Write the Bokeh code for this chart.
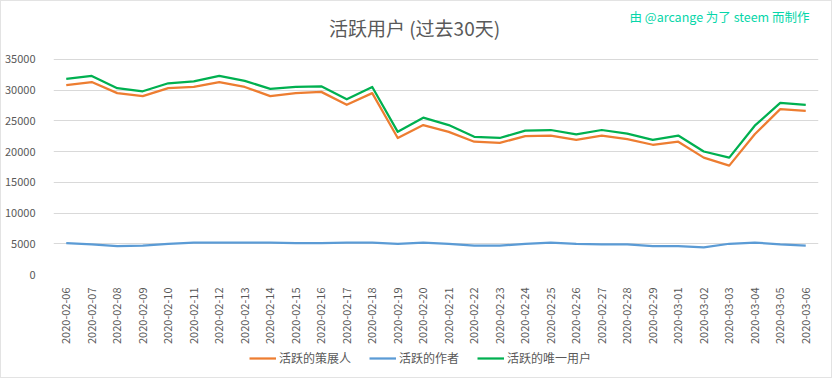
import math
from bokeh.plotting import figure
from bokeh.layouts import column
from bokeh.models import Legend, LegendItem, Label, FactorRange, Range1d, FixedTicker
from bokeh.embed import file_html
from bokeh.resources import INLINE

dates = ["2020-02-06", "2020-02-07", "2020-02-08", "2020-02-09", "2020-02-10",
         "2020-02-11", "2020-02-12", "2020-02-13", "2020-02-14", "2020-02-15",
         "2020-02-16", "2020-02-17", "2020-02-18", "2020-02-19", "2020-02-20",
         "2020-02-21", "2020-02-22", "2020-02-23", "2020-02-24", "2020-02-25",
         "2020-02-26", "2020-02-27", "2020-02-28", "2020-02-29", "2020-03-01",
         "2020-03-02", "2020-03-03", "2020-03-04", "2020-03-05", "2020-03-06"]

curators = [30800, 31300, 29500, 29000, 30300, 30500, 31300, 30500, 29000, 29500,
            29700, 27600, 29500, 22200, 24300, 23200, 21600, 21400, 22500, 22600,
            21900, 22600, 22000, 21100, 21600, 19000, 17700, 22800, 26900, 26600]

authors = [5100, 4900, 4600, 4700, 5000, 5200, 5200, 5200, 5200, 5100,
           5100, 5200, 5200, 5000, 5200, 5000, 4700, 4700, 5000, 5200,
           5000, 4900, 4900, 4600, 4600, 4400, 5000, 5200, 4900, 4700]

unique_users = [31800, 32300, 30300, 29800, 31100, 31400, 32300, 31500, 30200, 30500,
                30600, 28500, 30500, 23200, 25500, 24300, 22400, 22200, 23400, 23500,
                22800, 23500, 22900, 21900, 22600, 20000, 19000, 24200, 27900, 27600]

y_ticks = [0, 5000, 10000, 15000, 20000, 25000, 30000, 35000]

series_names = ["活跃的策展人", "活跃的作者", "活跃的唯一用户"]
series_colors = ["#ED7D31", "#5B9BD5", "#00B050"]
series_values = [curators, authors, unique_users]
title_text = "活跃用户 (过去30天)"
credit_text = "由 @arcange 为了 steem 而制作"

FONT = "Noto Sans CJK SC"
GREY = "#595959"
W = 830
H_MAIN = 345

# frame spans the header area too; 35000 sits 216px above 0 in a 274px frame
FRAME_H = 274
TICK_SPAN = 216
y_top = y_ticks[-1] * FRAME_H / TICK_SPAN

x_range = FactorRange(*dates)

p = figure(width=W, height=H_MAIN, x_range=x_range,
           y_range=Range1d(0, y_top), output_backend="svg", toolbar_location=None,
           min_border_left=51, min_border_right=13, min_border_top=0,
           min_border_bottom=H_MAIN - FRAME_H)

for vals, col in zip(series_values, series_colors):
    p.line(dates, vals, line_color=col, line_width=2.25, line_join="round")

p.outline_line_color = None
p.xgrid.grid_line_color = None
p.ygrid.grid_line_color = "#D9D9D9"
p.ygrid.grid_line_width = 1

p.yaxis.ticker = FixedTicker(ticks=y_ticks)
p.yaxis.axis_line_color = None
p.yaxis.major_tick_line_color = None
p.yaxis.minor_tick_line_color = None
p.yaxis.major_label_standoff = 12
p.yaxis.major_label_text_font = FONT
p.yaxis.major_label_text_font_size = "11px"
p.yaxis.major_label_text_color = GREY

p.xaxis.axis_line_color = None
p.xaxis.major_tick_line_color = None
p.xaxis.minor_tick_line_color = None
p.xaxis.major_label_orientation = math.pi / 2
p.xaxis.major_label_standoff = 7
p.xaxis.major_label_text_font = FONT
p.xaxis.major_label_text_font_size = "11px"
p.xaxis.major_label_text_color = GREY

title = Label(x=361, y=FRAME_H - 27, x_units="screen", y_units="screen", text=title_text,
              text_align="center", text_baseline="middle", text_font=FONT,
              text_font_size="19px", text_color=GREY)
p.add_layout(title)

credit = Label(x=756, y=FRAME_H - 16, x_units="screen", y_units="screen", text=credit_text,
               text_align="right", text_baseline="middle", text_font=FONT,
               text_font_size="12.5px", text_color="#06D6A9")
p.add_layout(credit)

# legend strip (series drawn out of its visible range, only the legend shows)
q = figure(width=W, height=31, x_range=x_range, y_range=Range1d(-2, -1),
           output_backend="svg", toolbar_location=None, min_border=0,
           x_axis_type=None, y_axis_type=None)
q.outline_line_color = None
q.xgrid.visible = False
q.ygrid.visible = False
lr = [q.line(dates, vals, line_color=col, line_width=2.25)
      for vals, col in zip(series_values, series_colors)]
legend = Legend(items=[LegendItem(label=n, renderers=[r]) for n, r in zip(series_names, lr)],
                orientation="horizontal", location=(196, 11),
                border_line_color=None, background_fill_alpha=0,
                label_text_font=FONT, label_text_font_size="12px",
                label_text_color=GREY, glyph_width=27, glyph_height=14,
                label_standoff=3, spacing=18, padding=0, margin=0)
q.add_layout(legend, "center")

layout = column(p, q, spacing=0, styles={"border": "1px solid #E3E3E3"})
open("out.html", "w").write(file_html(layout, INLINE))
